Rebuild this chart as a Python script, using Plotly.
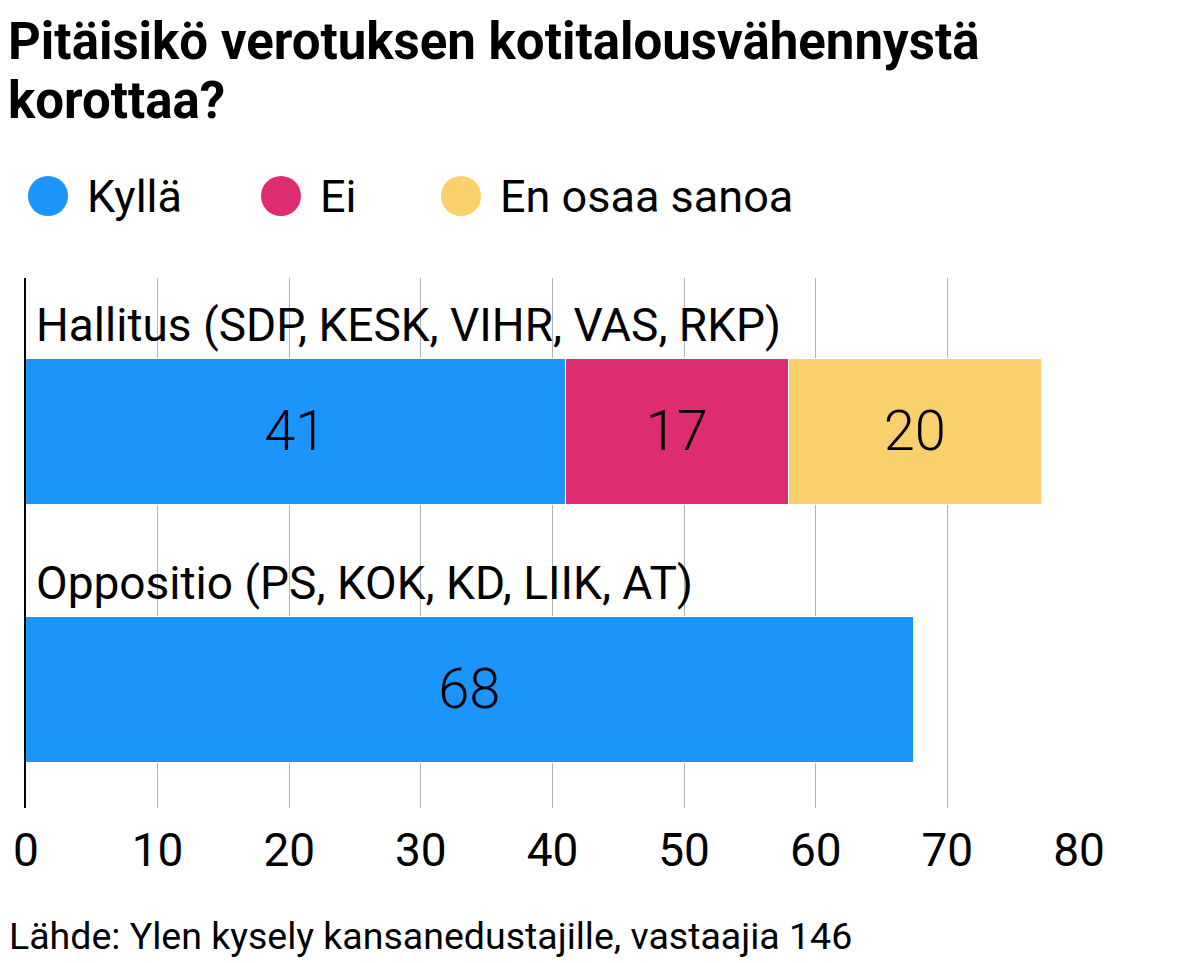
import plotly.graph_objects as go

# data
groups = ["Hallitus (SDP, KESK, VIHR, VAS, RKP)", "Oppositio (PS, KOK, KD, LIIK, AT)"]
series = ["Kyllä", "Ei", "En osaa sanoa"]
kylla = [41.0, 67.5]
ei = [17.0, 0]
eos = [19.2, 0]
kylla_lbl = ["41", "68"]
ei_lbl = ["17", ""]
eos_lbl = ["20", ""]
x_ticks = [0, 10, 20, 30, 40, 50, 60, 70, 80]

title_lines = ["Pitäisikö verotuksen kotitalousvähennystä", "korottaa?"]
source = "Lähde: Ylen kysely kansanedustajille, vastaajia 146"

colors = {"Kyllä": "#1b94fc", "Ei": "#de2c70", "En osaa sanoa": "#f9d06c"}

W, H = 1198, 963
OFF = 8  # page body margin
L, R, T, B = 26 - OFF, W - 1079 + OFF, 278 - OFF, H - 808 + OFF

def px_x(p):
    return (p - OFF - L) / (W - L - R)

def px_y(p):
    return 1 - (p - OFF - T) / (H - T - B)

fig = go.Figure()
for name, vals, lbls in [("Kyllä", kylla, kylla_lbl), ("Ei", ei, ei_lbl), ("En osaa sanoa", eos, eos_lbl)]:
    fig.add_trace(go.Bar(
        y=groups, x=vals, name=name, orientation="h",
        text=lbls, textposition="inside", insidetextanchor="middle", textangle=0,
        textfont=dict(family="Roboto", size=56, color="black", weight=300),
        marker=dict(color=colors[name], line=dict(color="white", width=1.5)),
        width=0.566, showlegend=False,
    ))

# group labels above bars
for g in groups:
    fig.add_annotation(x=0, y=g, xref="x", yref="y", text=g, showarrow=False,
                       xanchor="left", yanchor="bottom", xshift=8, yshift=78,
                       font=dict(family="Roboto", size=46, color="black"))

# legend drawn by hand (round markers)
leg_x = [48, 281, 461]
for name, cx in zip(series, leg_x):
    fig.add_shape(type="circle", xref="paper", yref="paper",
                  xsizemode="pixel", ysizemode="pixel",
                  xanchor=px_x(cx), yanchor=px_y(196),
                  x0=-20, x1=20, y0=-20, y1=20,
                  fillcolor=colors[name], line=dict(width=0))
    fig.add_annotation(x=px_x(cx + 37), y=px_y(197), xref="paper", yref="paper",
                       text=name, showarrow=False, xanchor="left", yanchor="middle",
                       font=dict(family="Roboto", size=45, color="black"))

fig.add_annotation(x=px_x(7), y=px_y(936), xref="paper", yref="paper",
                   text=source, showarrow=False, xanchor="left", yanchor="middle",
                   font=dict(family="Roboto", size=37.5, color="black"))

# title, one annotation per line
for line, ty in zip(title_lines, [41, 100]):
    fig.add_annotation(x=px_x(6), y=px_y(ty), xref="paper", yref="paper",
                       text="<b>" + line + "</b>", showarrow=False, xanchor="left",
                       yanchor="middle", align="left",
                       font=dict(family="Roboto", size=51, color="black"))

fig.update_layout(
    width=W, height=H,
    barmode="stack", bargap=0,
    margin=dict(l=L, r=R, t=T, b=B),
    paper_bgcolor="white", plot_bgcolor="white",
    xaxis=dict(range=[0, 80], tickvals=x_ticks, showgrid=True, gridcolor="#b4b4b4",
               gridwidth=1, zeroline=False, showline=False, ticks="",
               ticklabelstandoff=11, automargin=False,
               tickfont=dict(family="Roboto", size=46, color="black")),
    yaxis=dict(range=[1.457, -0.597], showticklabels=False, showgrid=False,
               zeroline=False, showline=True, linecolor="black", linewidth=2,
               automargin=False),
)

fig.write_html("out.html")
